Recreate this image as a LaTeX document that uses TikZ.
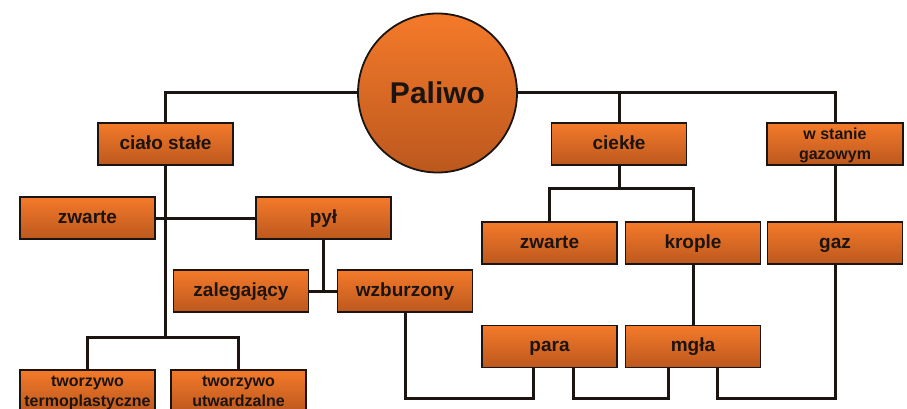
\documentclass[tikz,border=0pt]{standalone}
\usepackage{fontspec}
\setmainfont{Liberation Sans}
\definecolor{boxtop}{HTML}{F47A2A}
\definecolor{boxbot}{HTML}{BC581E}
\definecolor{ink}{HTML}{1C1410}
\tikzset{
  base/.style={draw=ink, line width=1.8pt, top color=boxtop, bottom color=boxbot,
    minimum width=135pt, minimum height=42pt, inner sep=0pt, text=ink},
  box/.style={base, text height=12pt, text depth=1.5pt,
    font=\bfseries\fontsize{19}{22}\selectfont},
  smallbox/.style={base, align=center, text height=33pt, text depth=1.5pt,
    font=\bfseries\fontsize{16}{20}\selectfont},
  link/.style={draw=ink, line width=3pt}
}
\begin{document}
\begin{tikzpicture}[x=1pt,y=-1pt]
    \clip (0,0) rectangle (907,409);
    \fill[white] (0,0) rectangle (907,409);

    % root
    \node[circle, draw=ink, line width=1.8pt, top color=boxtop, bottom color=boxbot,
      minimum size=159pt, inner sep=0pt, text=ink, font=\bfseries\fontsize{30}{32}\selectfont]
      (pal) at (437.5,93) {Paliwo};

    % first level
    \node[box] (cs) at (165.5,144) {ciało stałe};
    \node[box] (cie) at (619,144) {ciekłe};
    \node[smallbox, minimum width=136pt] (gw) at (835,144) {w stanie\\gazowym};

    % solid
    \node[box] (zw1) at (87.5,218) {zwarte};
    \node[box] (pyl) at (323.5,218) {pył};
    \node[box] (zal) at (241,291) {zalegający};
    \node[box] (wzb) at (405,291) {wzburzony};
    \node[smallbox] (tt) at (87.5,391) {tworzywo\\termoplastyczne};
    \node[smallbox] (tu) at (238.5,391) {tworzywo\\utwardzalne};

    % liquid and gas
    \node[box] (zw2) at (549.5,243) {zwarte};
    \node[box] (kro) at (693,243) {krople};
    \node[box] (gaz) at (835,243) {gaz};
    \node[box] (par) at (549.5,346.5) {para};
    \node[box] (mgl) at (693,346.5) {mgła};

    \coordinate (tj) at (165.5,337);
    \coordinate (cj) at (619,188);
    \coordinate (low) at (0,398);

    \draw[link] (pal.west) -| (cs.north);
    \draw[link] (pal.east) -| (gw.north);
    \draw[link] (cie.north) -- (cie.north |- pal.east);

    \draw[link] (cs.south) -- (tj);
    \draw[link] (tt.north) |- (tj) -| (tu.north);
    \draw[link] (zw1.east) -- (pyl.west);
    \draw[link] (zal.east) -- (wzb.west);
    \draw[link] (pyl.south) -- (pyl.south |- zal.east);

    \draw[link] (cie.south) -- (cj);
    \draw[link] (zw2.north) |- (cj) -| (kro.north);
    \draw[link] (gw.south) -- (gaz.north);
    \draw[link] (kro.south) -- (mgl.north);

    \draw[link] (wzb.south) -- (wzb.south |- low) -| ([xshift=-16pt]par.south);
    \draw[link] ([xshift=24pt]par.south) -- ([xshift=24pt]par.south |- low) -| ([xshift=-25pt]mgl.south);
    \draw[link] ([xshift=24pt]mgl.south) -- ([xshift=24pt]mgl.south |- low) -| (gaz.south);
\end{tikzpicture}
\end{document}
